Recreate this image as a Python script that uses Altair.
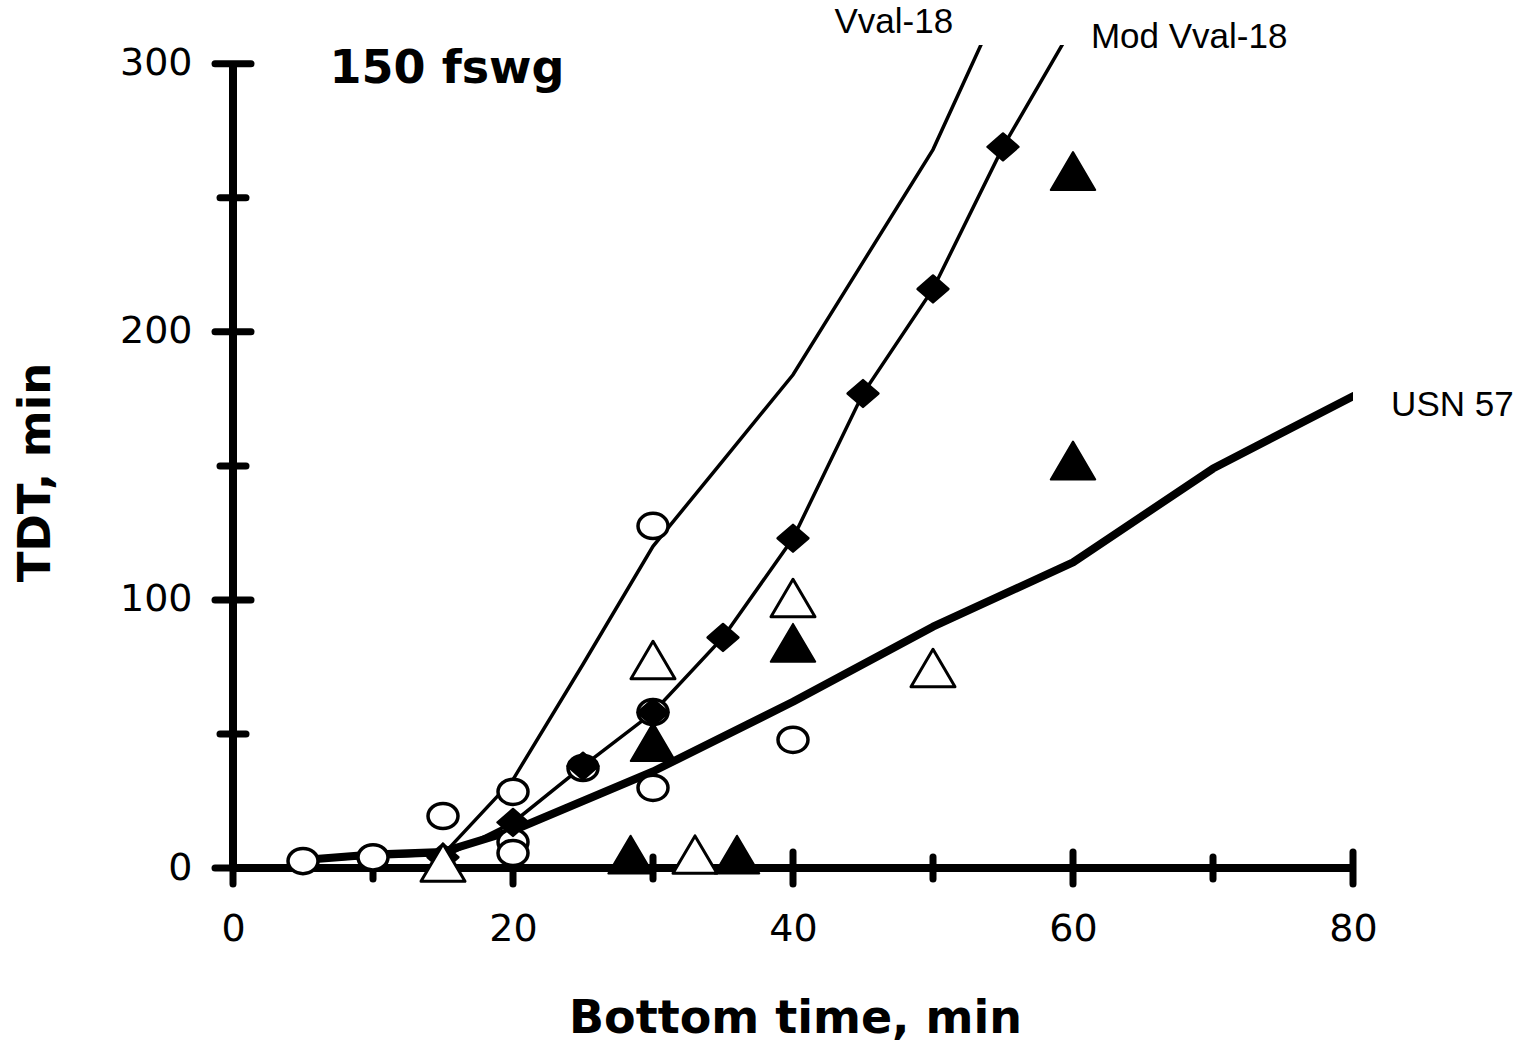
import altair as alt
import pandas as pd

# Model curves: total decompression time (min) versus bottom time (min)
vval_bt = [5, 10, 15, 20, 25, 30, 35, 40, 45, 50, 55]
vval_tdt = [3, 4, 5, 33, 76, 120, 152, 184, 226, 268, 325]

mod_bt = [15, 20, 25, 30, 35, 40, 45, 50, 55, 60]
mod_tdt = [4, 17, 38, 58, 86, 123, 177, 216, 269, 314]

usn_bt = [5, 10, 15, 20, 25, 30, 40, 50, 60, 70, 80]
usn_tdt = [3, 5, 6, 14, 25, 36, 62, 90, 114, 149, 176]

# Observed dives
circle_bt = [5, 10, 15, 20, 20, 20, 25, 30, 30, 30, 40]
circle_tdt = [2.6, 4, 19.4, 28.4, 9.7, 5.6, 37.3, 127.6, 58.2, 29.9, 47.8]

open_tri_bt = [15, 30, 33, 40, 50]
open_tri_tdt = [2, 77.6, 5, 100.7, 74.6]

solid_tri_bt = [28.4, 36, 30, 40, 60, 60]
solid_tri_tdt = [5, 5, 47, 84, 260, 152]

# Axis ticks
y_major = [0, 100, 200, 300]
y_minor = [50, 150, 250]
x_major = [0, 20, 40, 60, 80]
x_minor = [10, 30, 50, 70]

W, H = 1120, 823
xs = alt.Scale(domain=[0, 80], nice=False, zero=False)
ys = alt.Scale(domain=[0, 307], nice=False, zero=False)

TICK_FONT = "DejaVu Sans"
BOLD_FONT = "DejaVu Sans"
NOTE_FONT = "Liberation Sans"

ELLIPSE = "M-1,0A1,0.84,0,1,0,1,0A1,0.84,0,1,0,-1,0Z"
TRIANGLE = "M0,-0.85L1,0.85L-1,0.85Z"
DIAMOND = "M-1,0L0,-0.87L1,0L0,0.87Z"

x_axis = alt.Axis(
    values=x_major, domain=False, ticks=False, grid=False, labelFlush=False,
    labelFont=TICK_FONT, labelFontSize=38, labelColor="black", labelPadding=42,
    title="Bottom time, min", titleFont=BOLD_FONT, titleFontSize=46,
    titleFontWeight="bold", titleColor="black", titleX=562, titleY=150,
    titleAlign="center", titleBaseline="middle",
)
y_axis = alt.Axis(
    values=y_major, domain=False, ticks=False, grid=False, labelFlush=False,
    labelFont=TICK_FONT, labelFontSize=38, labelColor="black", labelPadding=41,
    title="TDT, min", titleFont=BOLD_FONT, titleFontSize=45,
    titleFontWeight="bold", titleColor="black", titleAngle=-90,
    titleX=-198, titleY=427, titleAlign="center", titleBaseline="middle",
)


def frame(bt, tdt, **extra):
    return pd.DataFrame({"bt": bt, "tdt": tdt, **extra})


def xq(field="bt"):
    return alt.X(f"{field}:Q", scale=xs, axis=x_axis, title="Bottom time, min")


def yq(field="tdt"):
    return alt.Y(f"{field}:Q", scale=ys, axis=y_axis, title="TDT, min")


# Axis lines
y_line = alt.Chart(frame([x_major[0]], [y_major[0]], top=[y_major[-1]])).mark_rule(
    color="black", strokeWidth=8
).encode(x=xq(), y=yq(), y2="top:Q")
x_line = alt.Chart(frame([x_major[0]], [y_major[0]], right=[x_major[-1]])).mark_rule(
    color="black", strokeWidth=8
).encode(x=xq(), x2="right:Q", y=yq())

# Tick marks crossing the axes
tick_style = dict(color="black", strokeWidth=7, strokeCap="round")
y_ticks_major = alt.Chart(frame([0] * len(y_major), y_major)).mark_rule(**tick_style).encode(
    y=yq(), x=alt.value(-18), x2=alt.value(18)
)
y_ticks_minor = alt.Chart(frame([0] * len(y_minor), y_minor)).mark_rule(**tick_style).encode(
    y=yq(), x=alt.value(-13), x2=alt.value(13)
)
x_ticks_major = alt.Chart(frame(x_major, [0] * len(x_major))).mark_rule(**tick_style).encode(
    x=xq(), y=alt.value(H - 16), y2=alt.value(H + 16)
)
x_ticks_minor = alt.Chart(frame(x_minor, [0] * len(x_minor))).mark_rule(**tick_style).encode(
    x=xq(), y=alt.value(H - 11), y2=alt.value(H + 11)
)

# Model curves
usn_line = alt.Chart(frame(usn_bt, usn_tdt)).mark_line(
    color="black", strokeWidth=8, clip=True, strokeJoin="round", strokeCap="round"
).encode(x=xq(), y=yq())
vval_line = alt.Chart(frame(vval_bt, vval_tdt)).mark_line(
    color="black", strokeWidth=3.5, clip=True
).encode(x=xq(), y=yq())
mod_line = alt.Chart(frame(mod_bt, mod_tdt)).mark_line(
    color="black", strokeWidth=3.5, clip=True
).encode(x=xq(), y=yq())
mod_marks = alt.Chart(frame(mod_bt[:-1], mod_tdt[:-1])).mark_point(
    shape=DIAMOND, size=950, filled=True, fill="black", stroke="black",
    strokeWidth=2.5, strokeJoin="round", opacity=1
).encode(x=xq(), y=yq())

# Observed dives
circles = alt.Chart(frame(circle_bt, circle_tdt)).mark_point(
    shape=ELLIPSE, size=900, filled=True, fill="white", stroke="black",
    strokeWidth=3.5, opacity=1
).encode(x=xq(), y=yq())
open_tris = alt.Chart(frame(open_tri_bt, open_tri_tdt)).mark_point(
    shape=TRIANGLE, size=1936, filled=True, fill="white", stroke="black",
    strokeWidth=3, strokeJoin="round", opacity=1
).encode(x=xq(), y=yq())
solid_tris = alt.Chart(frame(solid_tri_bt, solid_tri_tdt)).mark_point(
    shape=TRIANGLE, size=1980, filled=True, fill="black", stroke="black",
    strokeWidth=2, strokeJoin="round", opacity=1
).encode(x=xq(), y=yq())


# Annotations
def note(text, bt, tdt, font=NOTE_FONT, size=35, weight="normal", align="center"):
    return alt.Chart(frame([bt], [tdt], label=[text])).mark_text(
        font=font, fontSize=size, fontWeight=weight, align=align,
        baseline="middle", color="black"
    ).encode(x=xq(), y=yq(), text="label:N")


labels = [
    note("150 fswg", 6.9, 298, font=BOLD_FONT, size=46, weight="bold", align="left"),
    note("Vval-18", 47.2, 315.5),
    note("Mod Vval-18", 68.3, 309.8),
    note("USN 57", 87.1, 172.8),
]

chart = alt.layer(
    x_ticks_major, y_ticks_major, x_ticks_minor, y_ticks_minor, y_line, x_line,
    usn_line, vval_line, mod_line, circles, mod_marks, open_tris, solid_tris,
    *labels,
).properties(
    width=W, height=H,
    padding={"left": 233, "top": 45, "right": 183, "bottom": 175},
    autosize=alt.AutoSizeParams(type="none"),
    background="white",
).configure_view(stroke=None)

chart.save("out.html", embed_options={"renderer": "svg", "actions": False})
